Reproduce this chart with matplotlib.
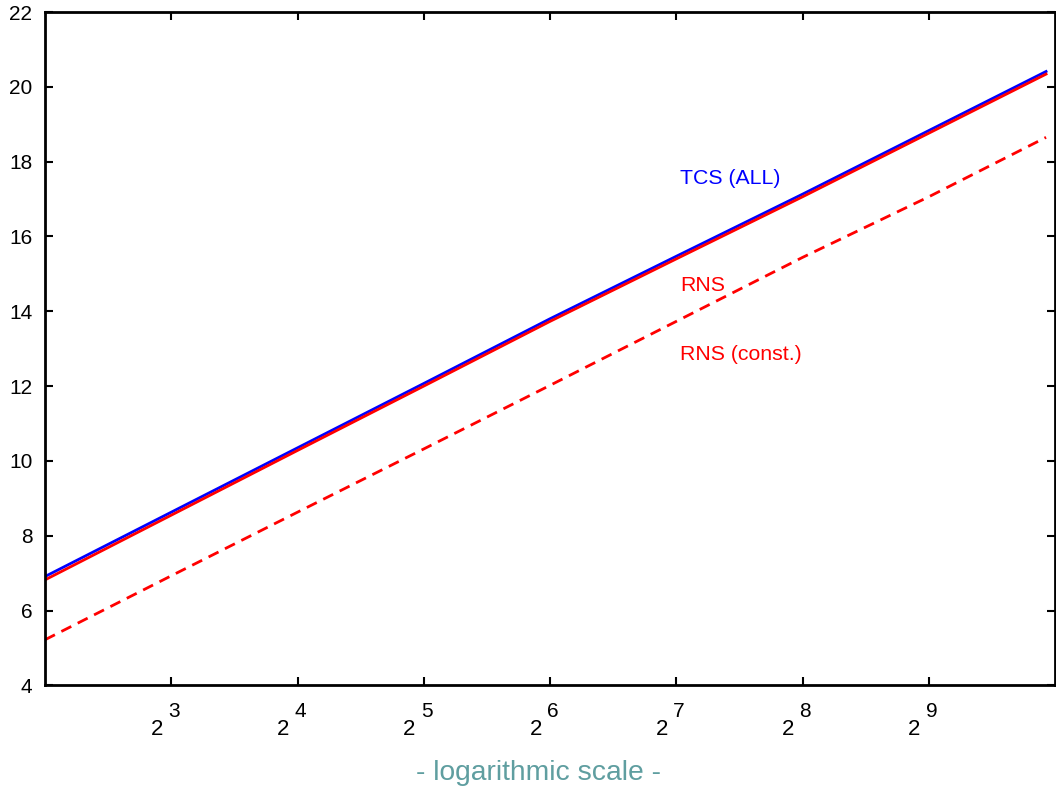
import matplotlib
matplotlib.use("Agg")
import matplotlib.pyplot as plt

plt.rcParams['font.family'] = ['Liberation Sans', 'DejaVu Sans']

# Data (x on a log2 scale)
x_vals = [4, 8, 16, 32, 64, 128, 256, 512, 975]
tcs_all = [6.91, 8.63, 10.35, 12.07, 13.80, 15.47, 17.13, 18.83, 20.41]
rns = [6.82, 8.55, 10.28, 12.00, 13.73, 15.40, 17.06, 18.76, 20.34]
rns_const = [5.22, 6.93, 8.63, 10.32, 12.02, 13.73, 15.44, 17.06, 18.65]

x_tick_exps = [3, 4, 5, 6, 7, 8, 9]
y_ticks = [4, 6, 8, 10, 12, 14, 16, 18, 20, 22]

W, H = 1056, 792
fig = plt.figure(figsize=(W / 100, H / 100), dpi=100)
L, R, B, T = 45, 1055, 685.4, 12
ax = fig.add_axes([L / W, 1 - B / H, (R - L) / W, (B - T) / H])

ax.plot(x_vals, tcs_all, color='#0000ff', lw=2.0)
ax.plot(x_vals, rns, color='#ff0000', lw=2.0)
ax.plot(x_vals, rns_const, color='#ff0000', lw=2.0, dashes=(4, 2.6))

ax.set_xscale('log', base=2)
ax.set_xlim(4, 1024)
ax.set_ylim(4, 22)
ax.set_yticks(y_ticks)
ax.set_xticks([2 ** e for e in x_tick_exps])
ax.set_xticklabels([])
ax.minorticks_off()
ax.tick_params(axis='both', direction='in', length=5.5, width=1.5,
               top=True, right=True, labelsize=15)
ax.tick_params(axis='y', pad=9)
for s in ax.spines.values():
    s.set_linewidth(2.0)

# custom x tick labels 2^k
for e in x_tick_exps:
    ax.annotate('2', xy=(2 ** e, 0), xycoords=('data', 'axes fraction'),
                xytext=(-5.8, -35.7), textcoords='offset points',
                ha='right', va='baseline', fontsize=16)
    ax.annotate(str(e), xy=(2 ** e, 0), xycoords=('data', 'axes fraction'),
                xytext=(-2.2, -22.8), textcoords='offset points',
                ha='left', va='baseline', fontsize=15)

lx = (680 - L) / (R - L)
ax.text(lx, 17.40, 'TCS (ALL)', color='#0000ff', fontsize=15.3,
        transform=ax.get_yaxis_transform(), ha='left', va='baseline')
ax.text(lx, 14.54, 'RNS', color='#ff0000', fontsize=15.3,
        transform=ax.get_yaxis_transform(), ha='left', va='baseline')
ax.text(lx, 12.71, 'RNS (const.)', color='#ff0000', fontsize=15.3,
        transform=ax.get_yaxis_transform(), ha='left', va='baseline')

fig.text(539 / W, 1 - 780 / H, '- logarithmic scale -', color='#5f9ea0',
         fontsize=20.3, ha='center', va='baseline')

fig.savefig('out.png', dpi=100)
